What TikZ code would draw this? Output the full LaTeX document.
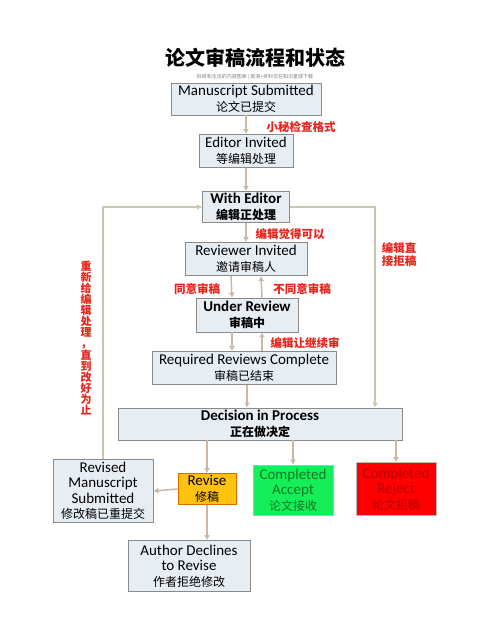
\documentclass[tikz,border=0pt]{standalone}
\usepackage{fontspec}
\setmainfont{Carlito}
\newfontfamily\cjk{Noto Sans CJK SC}
\usetikzlibrary{arrows.meta}

\definecolor{boxfill}{HTML}{E6EEF4}
\definecolor{boxline}{HTML}{8A8A8A}
\definecolor{arrowtan}{HTML}{C8B9A4}
\definecolor{loopline}{HTML}{C9C7AE}
\definecolor{notered}{HTML}{E8231B}
\definecolor{revfill}{HTML}{FFC20E}
\definecolor{accfill}{HTML}{14EE58}
\definecolor{accText}{HTML}{137A24}
\definecolor{rejText}{HTML}{B80000}

\tikzset{
  box/.style={draw=boxline,fill=boxfill,line width=0.9pt,align=center,inner sep=1pt,
    font=\fontsize{15}{15.5}\selectfont},
  boldbox/.style={box,font=\bfseries\fontsize{15}{15.5}\selectfont},
  note/.style={text=notered,font=\cjk\bfseries\fontsize{11.5}{13}\selectfont,align=center},
  flow/.style={draw=arrowtan,line width=1.5pt,arrows={-Latex[length=5pt,width=6pt]}},
  loop/.style={draw=loopline,line width=1.5pt},
}
\newcommand{\zh}[1]{{\cjk\fontsize{12}{14}\selectfont #1}}
\newcommand{\zhb}[1]{{\cjk\bfseries\fontsize{12}{14}\selectfont #1}}

\begin{document}
\begin{tikzpicture}[x=1pt,y=-1pt]
                \useasboundingbox[fill=white] (0,0) rectangle (500,619);

                \node[font=\cjk\bfseries\fontsize{20}{22}\selectfont] (title) at (255,58) {论文审稿流程和状态};
                \node[text=gray,font=\cjk\fontsize{5}{6}\selectfont] (sub) at (255,77) {科研和生活的内容图表\ \textbar\ 高清+资料仅在知识星球下载};

                \node[box,minimum width=150,minimum height=32] (subm) at (246,99) {Manuscript Submitted\\\zh{论文已提交}};
                \node[box,minimum width=94,minimum height=33] (edinv) at (246,151) {Editor Invited\\\zh{等编辑处理}};
                \node[boldbox,minimum width=87,minimum height=31] (wited) at (246,207) {With Editor\\\zhb{编辑正处理}};
                \node[box,minimum width=122,minimum height=33] (revinv) at (246,259) {Reviewer Invited\\\zh{邀请审稿人}};
                \node[boldbox,minimum width=102,minimum height=34] (under) at (247,315) {Under Review\\\zhb{审稿中}};
                \node[box,minimum width=184,minimum height=33] (reqrev) at (244,368) {Required Reviews Complete\\\zh{审稿已结束}};
                \node[boldbox,minimum width=284,minimum height=32] (decis) at (260,424) {Decision in Process\\\zhb{正在做决定}};

                \node[box,minimum width=100,minimum height=63] (revsd) at (103,491) {Revised\\Manuscript\\Submitted\\\zh{修改稿已重提交}};
                \node[box,fill=revfill,draw=orange!85!black,minimum width=58,minimum height=31] (revise) at (207,489) {Revise\\\zh{修稿}};
                \node[box,fill=accfill,draw=boxline!60,text=accText,minimum width=80,minimum height=50] (accept) at (293,490) {Completed\\Accept\\\zh{论文接收}};
                \node[box,fill=red,draw=boxline!60,text=rejText,minimum width=80,minimum height=53] (reject) at (396,489) {Completed\\Reject\\\zh{论文拒稿}};
                \node[box,minimum width=122,minimum height=51] (author) at (189,566) {Author Declines\\to Revise\\\zh{作者拒绝修改}};

                \draw[flow] (subm) -- (edinv);
                \draw[flow] (edinv) -- (wited);
                \draw[flow] (wited) -- (revinv);
                \draw[flow] ([xshift=-15pt]revinv.south) -- ([xshift=-15pt]under.north);
                \draw[flow] ([xshift=15pt]under.north) -- ([xshift=15pt]revinv.south);
                \draw[flow] ([xshift=-15pt]under.south) -- ([xshift=-15pt]under.south |- reqrev.north);
                \draw[flow] ([xshift=15pt]under.south |- reqrev.north) -- ([xshift=15pt]under.south);
                \draw[flow] (reqrev.south -| under) -- (decis.north -| under);

                \draw[loop,arrows={-Latex[length=5pt,width=6pt]}] (wited.east) -| ([xshift=115pt]decis.north);
                \draw[loop,arrows={-Latex[length=5pt,width=6pt]}] (revsd.north) |- (wited.west);

                \foreach \n in {revise,accept,reject}{
                    \draw[flow] (decis.south -| \n.north) -- (\n.north);
                }
                \draw[flow] (revise.west) -- (revsd.east);
                \draw[flow] (revise.south) -- (revise.south |- author.north);

                \node[note] (chk) at (301,127) {小秘检查格式};
                \node[note] (ok) at (290,234) {编辑觉得可以};
                \node[note] (agree) at (197,289) {同意审稿};
                \node[note] (disagree) at (302,289) {不同意审稿};
                \node[note] (goon) at (305,343) {编辑让继续审};
                \node[note] (direct) at (399,255) {编辑直\\接拒稿};
                \node[note,font=\cjk\bfseries\fontsize{11}{11}\selectfont] (again) at (86,338)
                    {重\\新\\给\\编\\辑\\处\\理\\，\\直\\到\\改\\好\\为\\止};
            \end{tikzpicture}
\end{document}
